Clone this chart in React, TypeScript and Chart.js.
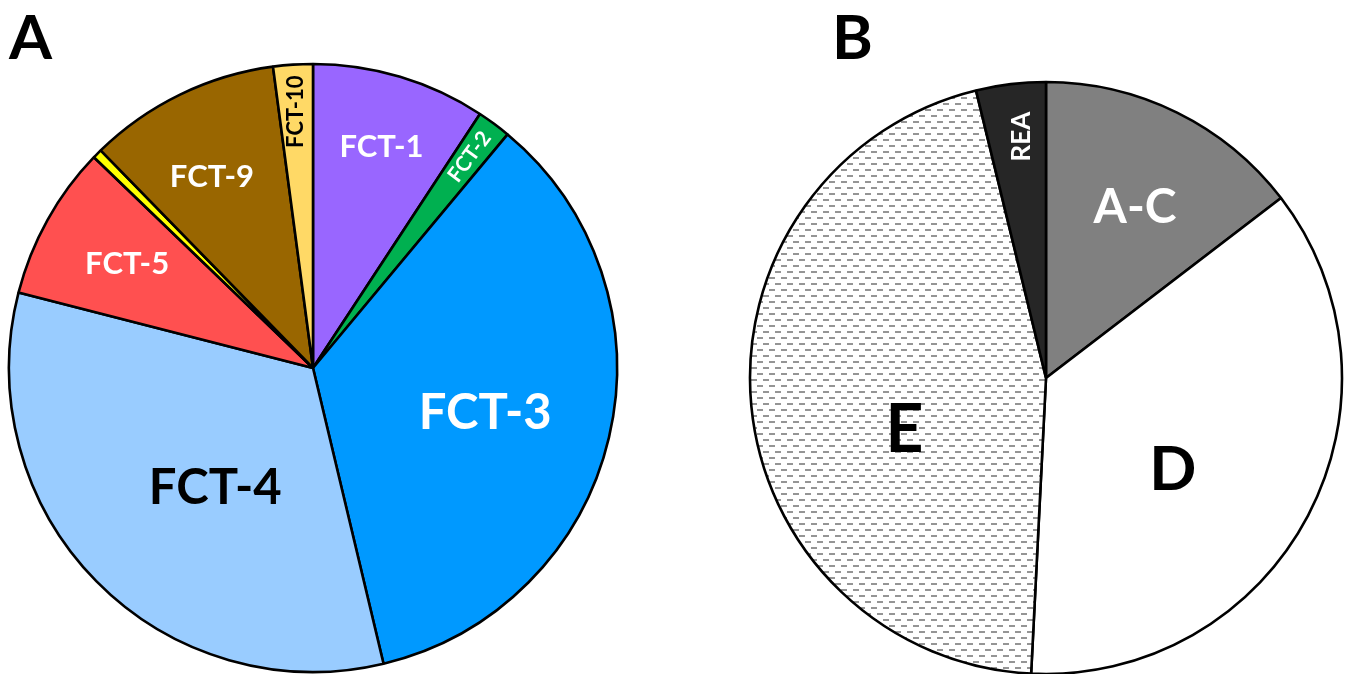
import React, { useEffect, useRef } from "react";
import { Chart, registerables } from "chart.js";

Chart.register(...registerables);

// ---- Data: panel A ----
const categoriesA = ["FCT-1", "FCT-2", "FCT-3", "FCT-4", "FCT-5", "FCT-6", "FCT-9", "FCT-10"];
const valuesA = [9.25, 1.8, 35.2, 32.7, 8.2, 0.5, 10.2, 2.1];
const colorsA = ["#9966FF", "#00B050", "#0099FF", "#99CCFF", "#FF5050", "#FFFF00", "#996600", "#FFD966"];
const textA = ["FCT-1", "FCT-2", "FCT-3", "FCT-4", "FCT-5", "", "FCT-9", "FCT-10"];

// ---- Data: panel B ----
const categoriesB = ["A-C", "D", "E", "REA"];
const valuesB = [14.6, 36.2, 45.4, 3.8];
const textB = ["A-C", "D", "E", "REA"];

// ---- Label styling (not data) ----
type LabelStyle = { frac: number; dAng: number; size: number; color: string; rot: "none" | "radial" | "vertical" };
const labelStyleA: LabelStyle[] = [
  { frac: 0.76, dAng: 0.6, size: 31, color: "#ffffff", rot: "none" },
  { frac: 0.865, dAng: 0, size: 21, color: "#ffffff", rot: "radial" },
  { frac: 0.585, dAng: 1.4, size: 49, color: "#ffffff", rot: "none" },
  { frac: 0.51, dAng: -6.4, size: 49, color: "#000000", rot: "none" },
  { frac: 0.7, dAng: 0, size: 31, color: "#ffffff", rot: "none" },
  { frac: 0.5, dAng: 0, size: 10, color: "#000000", rot: "none" },
  { frac: 0.71, dAng: -2, size: 31, color: "#ffffff", rot: "none" },
  { frac: 0.845, dAng: 0, size: 22, color: "#000000", rot: "vertical" },
];
const labelStyleB: LabelStyle[] = [
  { frac: 0.65, dAng: 1.3, size: 48, color: "#ffffff", rot: "none" },
  { frac: 0.53, dAng: 8.4, size: 62, color: "#000000", rot: "none" },
  { frac: 0.51, dAng: -15, size: 66, color: "#000000", rot: "none" },
  { frac: 0.82, dAng: 1, size: 26, color: "#ffffff", rot: "vertical" },
];

const FONT = "Lato, 'Open Sans', sans-serif";

function makeDashPattern(): CanvasPattern | string {
  const c = document.createElement("canvas");
  c.width = 12;
  c.height = 12;
  const ctx = c.getContext("2d");
  if (!ctx) return "#ffffff";
  ctx.fillStyle = "#ffffff";
  ctx.fillRect(0, 0, 12, 12);
  ctx.fillStyle = "#959595";
  ctx.fillRect(0, 1, 6, 2);
  ctx.fillRect(6, 7, 6, 2);
  const p = ctx.createPattern(c, "repeat");
  return p || "#ffffff";
}

const labelPlugin = {
  id: "sliceLabels",
  afterDatasetsDraw(chart: any, _args: any, opts: any) {
    const { ctx } = chart;
    const meta = chart.getDatasetMeta(0);
    const texts: string[] = opts.texts || [];
    const styles: LabelStyle[] = opts.styles || [];
    meta.data.forEach((arc: any, i: number) => {
      const t = texts[i];
      if (!t) return;
      const st = styles[i];
      const p = arc.getProps(["x", "y", "startAngle", "endAngle", "outerRadius"], true);
      const mid = (p.startAngle + p.endAngle) / 2 + (st.dAng * Math.PI) / 180;
      const r = p.outerRadius * st.frac;
      const x = p.x + Math.cos(mid) * r;
      const y = p.y + Math.sin(mid) * r;
      ctx.save();
      ctx.translate(x, y);
      if (st.rot === "radial") ctx.rotate(mid);
      if (st.rot === "vertical") ctx.rotate(-Math.PI / 2);
      ctx.font = `bold ${st.size}px ${FONT}`;
      ctx.fillStyle = st.color;
      ctx.textAlign = "center";
      ctx.textBaseline = "middle";
      ctx.fillText(t, 0, 0);
      ctx.restore();
    });
    if (opts.letter) {
      ctx.save();
      ctx.font = `bold 62px ${FONT}`;
      ctx.fillStyle = "#000";
      ctx.textAlign = "left";
      ctx.textBaseline = "alphabetic";
      ctx.fillText(opts.letter, opts.letterX, opts.letterY);
      ctx.restore();
    }
  },
};

export default function App() {
  const refA = useRef<HTMLCanvasElement>(null);
  const refB = useRef<HTMLCanvasElement>(null);

  useEffect(() => {
    if (!refA.current || !refB.current) return;
    const common = (padding: any, radius: number, letter: string, letterX: number, texts: string[], styles: LabelStyle[]) => ({
      responsive: false,
      animation: false as const,
      devicePixelRatio: 1,
      radius,
      layout: { padding },
      plugins: {
        legend: { display: false },
        tooltip: { enabled: false },
        sliceLabels: { texts, styles, letter, letterX, letterY: 59 },
      },
    });

    const chartA = new Chart(refA.current, {
      type: "pie",
      data: {
        labels: categoriesA,
        datasets: [
          {
            data: valuesA,
            backgroundColor: colorsA,
            borderColor: "#000000",
            borderWidth: 2.6,
          },
        ],
      },
      options: common({ left: 0, right: 47, top: 62, bottom: 0 }, 304, "A", 9, textA, labelStyleA) as any,
      plugins: [labelPlugin as any],
    });

    const pattern = makeDashPattern();
    const chartB = new Chart(refB.current, {
      type: "pie",
      data: {
        labels: categoriesB,
        datasets: [
          {
            data: valuesB,
            backgroundColor: ["#808080", "#ffffff", pattern as any, "#262626"],
            borderColor: "#000000",
            borderWidth: 2.6,
          },
        ],
      },
      options: common({ left: 73, right: 0, top: 82, bottom: 0 }, 296, "B", 159, textB, labelStyleB) as any,
      plugins: [labelPlugin as any],
    });

    return () => {
      chartA.destroy();
      chartB.destroy();
    };
  }, []);

  return (
    <div style={{ position: "absolute", left: 0, top: 0, width: 1346, height: 674, overflow: "hidden", background: "#fff" }}>
      <canvas ref={refA} width={673} height={674} style={{ position: "absolute", left: 0, top: 0, width: 673, height: 674 }} />
      <canvas ref={refB} width={673} height={674} style={{ position: "absolute", left: 673, top: 0, width: 673, height: 674 }} />
    </div>
  );
}
